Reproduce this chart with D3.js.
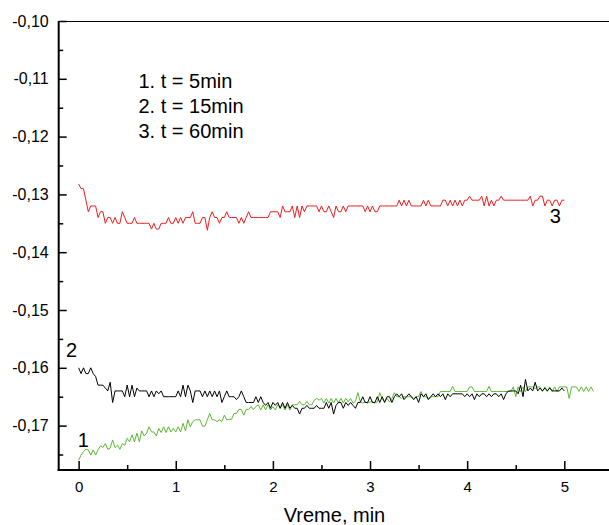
<!DOCTYPE html>
<html>
<head>
<meta charset="utf-8">
<script src="https://cdn.jsdelivr.net/npm/d3@7"></script>
<style>
  html, body { margin: 0; padding: 0; background: #fff; }
  svg { display: block; font-family: Arial, "Liberation Sans", sans-serif; }
</style>
</head>
<body>
<svg id="chart" width="609" height="525"></svg>
<script>
// ---- data ----
const sampleStep = 0.025; // min between samples
const xTicks = [0, 1, 2, 3, 4, 5];
const xTickLabels = ["0", "1", "2", "3", "4", "5"];
const xMinorTicks = [0.5, 1.5, 2.5, 3.5, 4.5];
const yTicks = [-0.10, -0.11, -0.12, -0.13, -0.14, -0.15, -0.16, -0.17];
const yTickLabels = ["-0,10", "-0,11", "-0,12", "-0,13", "-0,14", "-0,15", "-0,16", "-0,17"];
const yMinorTicks = [-0.105, -0.115, -0.125, -0.135, -0.145, -0.155, -0.165, -0.175];
const xTitle = "Vreme, min";
const legendLines = ["1. t = 5min", "2. t = 15min", "3. t = 60min"];

const series1 = [ // t = 5 min (green)
-0.1760,-0.1751,-0.1745,-0.1741,-0.1742,-0.1751,-0.1742,-0.1751,-0.1742,-0.1735,
-0.1738,-0.1731,-0.1741,-0.1739,-0.1725,-0.1738,-0.1734,-0.1741,-0.1731,-0.1734,
-0.1722,-0.1728,-0.1716,-0.1728,-0.1713,-0.1728,-0.1709,-0.1718,-0.1713,-0.1702,
-0.1711,-0.1711,-0.1718,-0.1705,-0.1712,-0.1702,-0.1712,-0.1702,-0.1711,-0.1705,
-0.1711,-0.1702,-0.1711,-0.1696,-0.1709,-0.1690,-0.1702,-0.1693,-0.1690,-0.1690,
-0.1690,-0.1701,-0.1701,-0.1690,-0.1679,-0.1690,-0.1690,-0.1693,-0.1690,-0.1693,
-0.1682,-0.1690,-0.1689,-0.1689,-0.1679,-0.1679,-0.1672,-0.1672,-0.1682,-0.1672,
-0.1672,-0.1667,-0.1672,-0.1667,-0.1664,-0.1673,-0.1664,-0.1673,-0.1664,-0.1673,
-0.1667,-0.1673,-0.1664,-0.1670,-0.1664,-0.1673,-0.1664,-0.1673,-0.1664,-0.1664,
-0.1664,-0.1658,-0.1664,-0.1664,-0.1658,-0.1664,-0.1664,-0.1656,-0.1653,-0.1656,
-0.1653,-0.1661,-0.1653,-0.1661,-0.1653,-0.1661,-0.1653,-0.1661,-0.1653,-0.1661,
-0.1653,-0.1659,-0.1653,-0.1661,-0.1658,-0.1643,-0.1659,-0.1661,-0.1659,-0.1661,
-0.1659,-0.1659,-0.1661,-0.1659,-0.1643,-0.1653,-0.1659,-0.1653,-0.1659,-0.1653,
-0.1643,-0.1650,-0.1650,-0.1653,-0.1650,-0.1650,-0.1650,-0.1650,-0.1653,-0.1650,
-0.1650,-0.1641,-0.1650,-0.1650,-0.1653,-0.1650,-0.1650,-0.1650,-0.1650,-0.1641,
-0.1641,-0.1641,-0.1641,-0.1641,-0.1632,-0.1641,-0.1641,-0.1641,-0.1641,-0.1641,
-0.1641,-0.1633,-0.1633,-0.1641,-0.1641,-0.1641,-0.1641,-0.1641,-0.1641,-0.1632,
-0.1641,-0.1641,-0.1641,-0.1641,-0.1641,-0.1641,-0.1641,-0.1641,-0.1641,-0.1633,
-0.1650,-0.1633,-0.1641,-0.1633,-0.1641,-0.1633,-0.1633,-0.1633,-0.1636,-0.1633,
-0.1633,-0.1641,-0.1633,-0.1641,-0.1633,-0.1641,-0.1633,-0.1641,-0.1633,-0.1633,
-0.1633,-0.1633,-0.1653,-0.1633,-0.1633,-0.1633,-0.1641,-0.1633,-0.1641,-0.1633,
-0.1641,-0.1633,-0.1641
];

const series2 = [ // t = 15 min (black)
-0.160,-0.161,-0.160,-0.161,-0.161,-0.160,-0.161,-0.1615,-0.163,-0.163,
-0.163,-0.1635,-0.164,-0.1625,-0.166,-0.164,-0.164,-0.164,-0.164,-0.165,
-0.163,-0.165,-0.163,-0.165,-0.1635,-0.164,-0.164,-0.164,-0.164,-0.165,
-0.164,-0.165,-0.164,-0.1645,-0.164,-0.165,-0.165,-0.165,-0.165,-0.165,
-0.165,-0.164,-0.165,-0.163,-0.165,-0.163,-0.164,-0.166,-0.164,-0.164,
-0.164,-0.165,-0.164,-0.165,-0.164,-0.165,-0.164,-0.165,-0.164,-0.166,
-0.165,-0.164,-0.165,-0.165,-0.165,-0.1655,-0.165,-0.164,-0.165,-0.166,
-0.166,-0.166,-0.166,-0.165,-0.166,-0.165,-0.166,-0.1665,-0.166,-0.167,
-0.166,-0.1665,-0.166,-0.167,-0.166,-0.167,-0.166,-0.167,-0.1665,-0.167,
-0.167,-0.168,-0.167,-0.167,-0.1665,-0.167,-0.167,-0.167,-0.1665,-0.167,
-0.167,-0.167,-0.166,-0.167,-0.166,-0.168,-0.1665,-0.166,-0.166,-0.167,
-0.166,-0.1665,-0.166,-0.1665,-0.167,-0.166,-0.166,-0.165,-0.166,-0.166,
-0.165,-0.166,-0.166,-0.165,-0.166,-0.165,-0.166,-0.165,-0.165,-0.166,
-0.165,-0.1645,-0.165,-0.1645,-0.1655,-0.165,-0.1645,-0.165,-0.1655,-0.165,
-0.166,-0.1645,-0.165,-0.1645,-0.1655,-0.165,-0.1645,-0.165,-0.1645,-0.165,
-0.1645,-0.1655,-0.1645,-0.165,-0.1645,-0.1645,-0.1645,-0.1645,-0.1645,-0.165,
-0.1645,-0.165,-0.1645,-0.1655,-0.1645,-0.165,-0.1645,-0.1645,-0.165,-0.1645,
-0.165,-0.1645,-0.1645,-0.165,-0.1645,-0.1655,-0.1645,-0.164,-0.164,-0.164,
-0.164,-0.1645,-0.163,-0.165,-0.162,-0.164,-0.1635,-0.164,-0.1625,-0.164,
-0.1635,-0.164,-0.1635,-0.164,-0.1635,-0.164,-0.164,-0.164,-0.164,-0.1635,
-0.164
];

const series3 = [ // t = 60 min (red)
-0.1282,-0.129,-0.129,-0.131,-0.133,-0.132,-0.132,-0.132,-0.134,-0.133,
-0.133,-0.135,-0.134,-0.134,-0.135,-0.134,-0.135,-0.135,-0.133,-0.134,
-0.135,-0.135,-0.135,-0.134,-0.135,-0.135,-0.135,-0.135,-0.135,-0.135,
-0.136,-0.135,-0.136,-0.136,-0.135,-0.135,-0.135,-0.134,-0.135,-0.135,
-0.134,-0.135,-0.134,-0.135,-0.134,-0.134,-0.134,-0.133,-0.135,-0.135,
-0.135,-0.134,-0.134,-0.1362,-0.134,-0.133,-0.134,-0.134,-0.135,-0.134,
-0.134,-0.133,-0.134,-0.134,-0.134,-0.134,-0.135,-0.134,-0.135,-0.134,
-0.133,-0.134,-0.134,-0.134,-0.134,-0.134,-0.134,-0.134,-0.134,-0.133,
-0.133,-0.133,-0.133,-0.134,-0.132,-0.133,-0.133,-0.133,-0.132,-0.134,
-0.132,-0.134,-0.132,-0.133,-0.132,-0.132,-0.132,-0.132,-0.132,-0.133,
-0.132,-0.133,-0.133,-0.132,-0.133,-0.134,-0.132,-0.133,-0.133,-0.132,
-0.133,-0.132,-0.132,-0.132,-0.132,-0.132,-0.132,-0.132,-0.133,-0.132,
-0.133,-0.132,-0.133,-0.133,-0.132,-0.132,-0.132,-0.132,-0.132,-0.132,
-0.132,-0.132,-0.131,-0.132,-0.131,-0.132,-0.131,-0.132,-0.132,-0.132,
-0.132,-0.132,-0.131,-0.132,-0.131,-0.132,-0.132,-0.132,-0.132,-0.132,
-0.131,-0.131,-0.132,-0.131,-0.132,-0.131,-0.132,-0.131,-0.132,-0.131,
-0.131,-0.1303,-0.131,-0.131,-0.131,-0.131,-0.1303,-0.132,-0.1303,-0.132,
-0.131,-0.132,-0.131,-0.131,-0.1303,-0.131,-0.131,-0.131,-0.131,-0.131,
-0.131,-0.131,-0.131,-0.131,-0.131,-0.131,-0.1303,-0.132,-0.131,-0.131,
-0.1303,-0.1303,-0.132,-0.131,-0.131,-0.132,-0.131,-0.131,-0.132,-0.131,
-0.131
];

const seriesList = [
  { name: "1", values: series1, color: "#5cb833" },
  { name: "2", values: series2, color: "#000000" },
  { name: "3", values: series3, color: "#f01c1c" }
];

// series labels placed next to curves (data coordinates)
const seriesLabels = [
  { text: "3", t: 4.85, v: -0.1338 },
  { text: "2", t: -0.13, v: -0.1569 },
  { text: "1", t: -0.008, v: -0.1725 }
];

// ---- layout ----
const plotLeft = 58.7, plotTop = 21, plotBottom = 470, plotRight = 609;

const x = d3.scaleLinear().domain([-0.205, 5.46]).range([plotLeft, plotRight]);
const y = d3.scaleLinear().domain([-0.17768, -0.10]).range([plotBottom, plotTop]);

const svg = d3.select("#chart");

// lines
const line = d3.line()
  .x((d, i) => x(i * sampleStep))
  .y(d => y(d));

svg.append("g")
  .selectAll("path")
  .data(seriesList)
  .join("path")
  .attr("fill", "none")
  .attr("stroke", d => d.color)
  .attr("stroke-width", 1)
  .attr("stroke-linejoin", "miter")
  .attr("d", d => line(d.values));

// top frame line
svg.append("line")
  .attr("x1", plotLeft).attr("x2", plotRight)
  .attr("y1", plotTop + 0.5).attr("y2", plotTop + 0.5)
  .attr("stroke", "#000").attr("stroke-width", 1);

// y axis (ticks inward)
const yAxis = d3.axisLeft(y)
  .tickValues(yTicks)
  .tickFormat((d, i) => yTickLabels[i])
  .tickSizeInner(-8)
  .tickSizeOuter(0)
  .tickPadding(10);
const gy = svg.append("g").attr("transform", `translate(${plotLeft},0)`).call(yAxis);
gy.select(".domain").attr("stroke-width", 2).attr("d", `M0,${plotTop}V${plotBottom + 1}`);
gy.selectAll(".tick line").attr("stroke-width", 1.5);
gy.selectAll(".tick text").attr("font-size", 16).attr("font-family", "Arial, 'Liberation Sans', sans-serif").attr("fill", "#000");

const yMinor = d3.axisLeft(y).tickValues(yMinorTicks).tickFormat("").tickSizeInner(-4.5).tickSizeOuter(0);
const gym = svg.append("g").attr("transform", `translate(${plotLeft},0)`).call(yMinor);
gym.select(".domain").remove();
gym.selectAll(".tick line").attr("stroke-width", 1.5);

// x axis (ticks inward)
const xAxis = d3.axisBottom(x)
  .tickValues(xTicks)
  .tickFormat((d, i) => xTickLabels[i])
  .tickSizeInner(-9)
  .tickSizeOuter(0)
  .tickPadding(11);
const gx = svg.append("g").attr("transform", `translate(0,${plotBottom})`).call(xAxis);
gx.select(".domain").attr("stroke-width", 1.8).attr("d", `M${plotLeft - 1},0H${plotRight}`);
gx.selectAll(".tick line").attr("stroke-width", 1.5);
gx.selectAll(".tick text").attr("font-size", 15).attr("font-family", "Arial, 'Liberation Sans', sans-serif").attr("fill", "#000");

const xMinor = d3.axisBottom(x).tickValues(xMinorTicks).tickFormat("").tickSizeInner(-5).tickSizeOuter(0);
const gxm = svg.append("g").attr("transform", `translate(0,${plotBottom})`).call(xMinor);
gxm.select(".domain").remove();
gxm.selectAll(".tick line").attr("stroke-width", 1.5);

// x title
svg.append("text")
  .attr("x", 334.5).attr("y", 522)
  .attr("text-anchor", "middle")
  .attr("font-size", 20)
  .attr("fill", "#000")
  .text(xTitle);

// legend text
svg.append("g")
  .selectAll("text")
  .data(legendLines)
  .join("text")
  .attr("x", 138.5)
  .attr("y", (d, i) => 87.5 + i * 25.3)
  .attr("font-size", 20)
  .attr("fill", "#000")
  .text(d => d);

svg.append("g")
  .selectAll("text")
  .data(seriesLabels)
  .join("text")
  .attr("x", d => x(d.t))
  .attr("y", d => y(d.v) + 7)
  .attr("font-size", 20)
  .attr("fill", "#000")
  .text(d => d.text);
</script>
</body>
</html>
